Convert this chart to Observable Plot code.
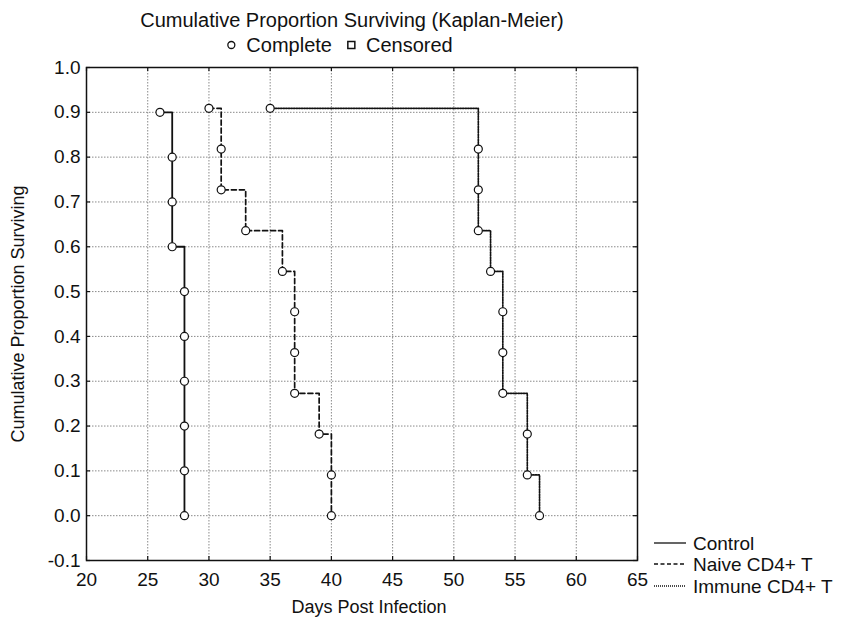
<!DOCTYPE html>
<html><head><meta charset="utf-8">
<script src="https://cdn.jsdelivr.net/npm/d3@7"></script>
<script src="https://cdn.jsdelivr.net/npm/@observablehq/plot@0.6"></script>
<style>
body{margin:0;background:#fff;font-family:"Liberation Sans",Arial,sans-serif;color:#111;}
#wrap{position:relative;width:844px;height:623px;overflow:hidden;}
#head{position:relative;height:58px;}
.t{position:absolute;white-space:nowrap;line-height:1;transform:translate(-50%,-50%);}
.lg{position:absolute;white-space:nowrap;line-height:1;transform:translateY(-50%);font-size:19px;}
.ls{position:absolute;}
</style></head><body>
<div id="wrap">
  <div id="head">
    <div class="t" style="left:352px;top:20px;font-size:20px;">Cumulative Proportion Surviving (Kaplan-Meier)</div>
    <div class="t" style="left:339px;top:45px;font-size:20px;display:flex;align-items:center;gap:0;">
      <svg width="12" height="12" style="margin-right:9px"><circle cx="6" cy="6" r="3.5" fill="white" stroke="#111" stroke-width="1.3"/></svg>
      <span>Complete</span>
      <svg width="12" height="12" style="margin-left:13px;margin-right:9px"><rect x="2.5" y="2.5" width="7" height="7" fill="white" stroke="#111" stroke-width="1.5"/></svg>
      <span>Censored</span>
    </div>
  </div>
  <div id="chart"></div>
  <div id="legend"></div>
</div>
<script>
// ---- data ----
const xTicks = [20, 25, 30, 35, 40, 45, 50, 55, 60, 65];
const yTicks = [-0.1, 0.0, 0.1, 0.2, 0.3, 0.4, 0.5, 0.6, 0.7, 0.8, 0.9, 1.0];

const seriesNames = ["Control", "Naive CD4+ T", "Immune CD4+ T"];

const controlDays = [26, 27, 27, 27, 28, 28, 28, 28, 28, 28];
const controlSurv = [0.9, 0.8, 0.7, 0.6, 0.5, 0.4, 0.3, 0.2, 0.1, 0.0];

const naiveDays = [30, 31, 31, 33, 36, 37, 37, 37, 39, 40, 40];
const naiveSurv = [0.909, 0.818, 0.727, 0.636, 0.545, 0.455, 0.364, 0.273, 0.182, 0.091, 0.0];

const immuneDays = [35, 52, 52, 52, 53, 54, 54, 54, 56, 56, 57];
const immuneSurv = [0.909, 0.818, 0.727, 0.636, 0.545, 0.455, 0.364, 0.273, 0.182, 0.091, 0.0];

// ---- build tables ----
const toRows = (days, surv, name) => days.map((d, i) => ({day: d, surv: surv[i], group: name}));
const control = toRows(controlDays, controlSurv, seriesNames[0]);
const naive = toRows(naiveDays, naiveSurv, seriesNames[1]);
const immune = toRows(immuneDays, immuneSurv, seriesNames[2]);

const styles = {
  "Control": {strokeWidth: 1.8, dash: null},
  "Naive CD4+ T": {strokeWidth: 1.7, dash: "5,3"},
  "Immune CD4+ T": {strokeWidth: 1.7, dash: "1.3,1.3"}
};

const W = 844, H = 565, mt = 9, mb = 63, ml = 86, mr = 207;
const fw = W - ml - mr, fh = H - mt - mb, tk = 4;

const lineMark = (data, name) => Plot.line(data, {
  x: "day", y: "surv", curve: "step-after", stroke: "#111",
  strokeWidth: styles[name].strokeWidth, strokeDasharray: styles[name].dash
});

const chart = Plot.plot({
  width: W, height: H,
  marginTop: mt, marginBottom: mb, marginLeft: ml, marginRight: mr,
  style: {fontFamily: "'Liberation Sans', Arial, sans-serif", color: "#111", background: "white"},
  x: {domain: [20, 65]},
  y: {domain: [-0.1, 1.0]},
  marks: [
    Plot.gridX(xTicks, {stroke: "#8a8a8a", strokeOpacity: 1, strokeWidth: 1, strokeDasharray: "1.5,1.5"}),
    Plot.gridY(yTicks, {stroke: "#8a8a8a", strokeOpacity: 1, strokeWidth: 1, strokeDasharray: "1.5,1.5"}),
    Plot.tickX(xTicks, {x: d => d, insetTop: fh - tk, stroke: "#111", strokeWidth: 1.2}),
    Plot.tickX(xTicks, {x: d => d, insetBottom: fh - tk, stroke: "#111", strokeWidth: 1.2}),
    Plot.tickY(yTicks, {y: d => d, insetRight: fw - tk, stroke: "#111", strokeWidth: 1.2}),
    Plot.tickY(yTicks, {y: d => d, insetLeft: fw - tk, stroke: "#111", strokeWidth: 1.2}),
    Plot.axisX({ticks: xTicks, tickSize: 0, tickPadding: 12, fontSize: 19, label: null, tickFormat: d => String(d)}),
    Plot.axisY({ticks: yTicks, tickSize: 0, tickPadding: 6, fontSize: 19, label: null, tickFormat: d => d.toFixed(1).replace("-0.0", "0.0")}),
    lineMark(control, "Control"),
    lineMark(naive, "Naive CD4+ T"),
    lineMark(immune, "Immune CD4+ T"),
    Plot.dot([...control, ...naive, ...immune], {x: "day", y: "surv", r: 4, fill: "white", stroke: "#111", strokeWidth: 1.2}),
    Plot.frame({stroke: "#111", strokeWidth: 1.5}),
    Plot.text(["Cumulative Proportion Surviving"], {text: d => d, frameAnchor: "left", textAnchor: "middle", rotate: -90, dx: -68, fontSize: 18, fill: "#111"}),
    Plot.text(["Days Post Infection"], {text: d => d, frameAnchor: "bottom", textAnchor: "middle", dx: 7, dy: 52, fontSize: 18, fill: "#111"})
  ]
});
document.getElementById("chart").appendChild(chart);

// ---- legend (bottom right) ----
const legend = document.getElementById("legend");
const rowY = [543, 564, 586];
seriesNames.forEach((name, i) => {
  const s = styles[name];
  const svg = document.createElementNS("http://www.w3.org/2000/svg", "svg");
  svg.setAttribute("width", 32); svg.setAttribute("height", 6);
  svg.setAttribute("class", "ls");
  svg.style.left = "654px"; svg.style.top = (rowY[i] - 3) + "px";
  const ln = document.createElementNS("http://www.w3.org/2000/svg", "line");
  ln.setAttribute("x1", 0); ln.setAttribute("x2", 32); ln.setAttribute("y1", 3); ln.setAttribute("y2", 3);
  ln.setAttribute("stroke", "#111"); ln.setAttribute("stroke-width", i === 2 ? 1.4 : 1.3);
  if (s.dash) ln.setAttribute("stroke-dasharray", i === 1 ? "4,2.5" : "1,1");
  svg.appendChild(ln);
  legend.appendChild(svg);
  const lab = document.createElement("div");
  lab.className = "lg";
  lab.style.left = "693px"; lab.style.top = rowY[i] + "px";
  lab.textContent = name;
  legend.appendChild(lab);
});
</script>
</body></html>
